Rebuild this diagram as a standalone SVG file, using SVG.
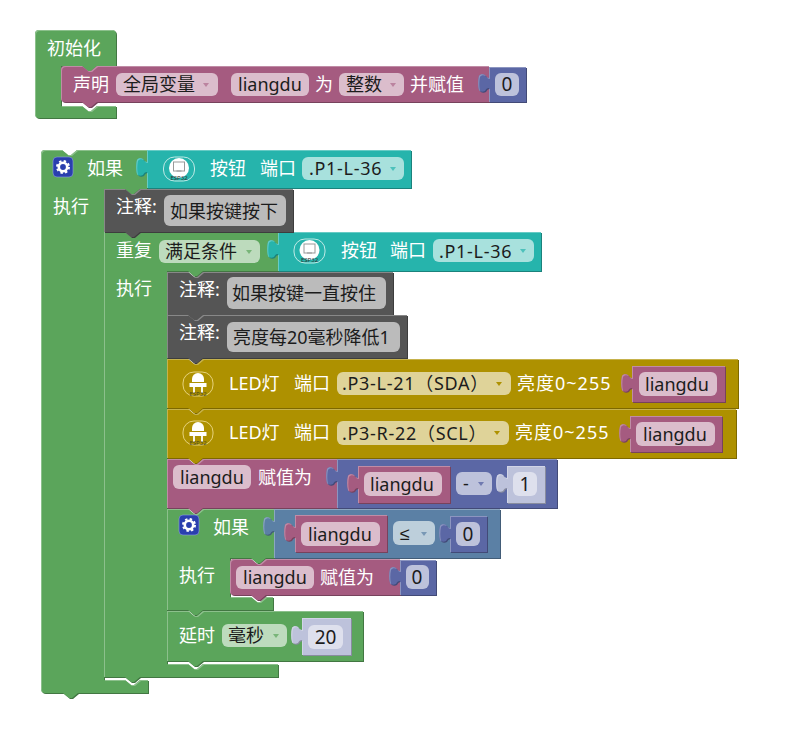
<svg xmlns="http://www.w3.org/2000/svg" width="787" height="741" viewBox="0 0 787 741">
<style>
text{font-family:"Noto Sans","Noto Sans CJK SC","DejaVu Sans",sans-serif;font-size:18px;fill:#fff}
.k{fill:#1c1c1c}
.w{letter-spacing:.7px}
.n{font-size:19px}
.b{filter:url(#bev)}
.g{fill:#5ba55b}.m{fill:#a55b80}.u{fill:#5b67a5}.s{fill:#5b80a5}.t{fill:#26b4ac}.c{fill:#555}.o{fill:#ae9100}.l{fill:#bdc2db}
.fm{fill:#dbbdcc}.fu{fill:#bdc2db}.fl{fill:#dee0ed}.ft{fill:#a8e1dd}.fg{fill:#bddbbd}.fc{fill:#bbb}.fo{fill:#dfd399}.fs{fill:#bdcfdb}
.am{fill:#a55b80;opacity:.6}.au{fill:#5b67a5;opacity:.8}.at{fill:#26b4ac;opacity:.7}.ag{fill:#5ba55b;opacity:.7}.ao{fill:#ae9100}.as{fill:#5b80a5;opacity:.7}
</style>
<defs>
<filter id="bev" x="-5%" y="-5%" width="110%" height="115%" color-interpolation-filters="sRGB">
<feOffset in="SourceGraphic" dx="1" dy="1" result="off"/>
<feColorMatrix in="off" type="matrix" values=".72 0 0 0 0 0 .72 0 0 0 0 0 .72 0 0 0 0 0 1 0" result="dark"/>
<feComposite in="SourceGraphic" in2="off" operator="out" result="edge"/>
<feColorMatrix in="edge" type="matrix" values=".7 0 0 0 .3 0 .7 0 0 .3 0 0 .7 0 .3 0 0 0 1 0" result="light"/>
<feMerge><feMergeNode in="dark"/><feMergeNode in="SourceGraphic"/><feMergeNode in="light"/></feMerge>
</filter>
<path id="arr" d="M-3-2h6l-3 4z"/>
<g id="btn">
<rect x="0" y="0" width="31" height="24" rx="11" fill="none" stroke="#bfeae6"/>
<circle cx="15.500" cy="11" r="10" fill="#fff"/>
<rect x="10" y="5" width="11" height="9" fill="none" stroke="#999"/>
<path d="M13 14h5" stroke="#999"/>
<text x="15.500" y="22.500" text-anchor="middle" style="font-size:6px;fill:#333">ESP32</text>
</g>
<g id="led">
<rect x="0" y="0" width="30" height="24" rx="11" fill="none" stroke="#e6d27c"/>
<path d="M9 10V7a6 6 0 0 1 12 0v3z" fill="#fff"/>
<rect x="6.500" y="11" width="17" height="4" fill="#fff"/>
<path d="M11 15v6M19 15v6" stroke="#fff" stroke-width="1.800"/>
<text x="15" y="23.500" text-anchor="middle" style="font-size:6px;fill:#4a4a20">ESP32</text>
</g>
<g id="gear">
<rect x="0" y="0" width="20" height="20" rx="4" fill="#2a3fae" stroke="#8f9de0" stroke-width=".6"/>
<circle cx="10" cy="10" r="4.200" fill="none" stroke="#fff" stroke-width="2.600"/>
<circle cx="10" cy="10" r="6" fill="none" stroke="#fff" stroke-width="2" stroke-dasharray="2.400 2.310"/>
</g>
</defs>

<g id="init">
<path class="b g" d="M35 34a4 4 0 0 1 4-4H112a4 4 0 0 1 4 4V66H97l-6 5h-3l-6-5H61V106H82l6 5h3l6-5H116V118H39a4 4 0 0 1-4-4z"/>
<text x="47" y="55">初始化</text>
</g>
<g id="declare">
<path class="b m" d="M61 70a4 4 0 0 1 4-4H82l6 5h3l6-5H489V102H97l-6 5h-3l-6-5H65a4 4 0 0 1-4-4z"/>
<text x="73" y="91">声明</text>
<rect class="fm" x="116" y="73" width="102" height="23" rx="6"/><text class="k" x="123" y="91">全局变量</text><use href="#arr" class="am" x="206" y="85"/>
<rect class="fm" x="231" y="73" width="78" height="23" rx="6"/><text class="k" x="238" y="91">liangdu</text>
<text x="315" y="91">为</text>
<rect class="fm" x="339" y="73" width="65" height="23" rx="6"/><text class="k" x="346" y="91">整数</text><use href="#arr" class="am" x="393" y="85"/>
<text x="410" y="91">并赋值</text>
</g>
<g id="declare-value">
<path class="b u" d="M489 67v11c-2 0-3-1-4-3c-2-1-5-1-6 1c-1 4-1 10 0 14c1 2 4 2 6 1c1-2 2-3 4-3V102H526V67z"/>
<rect class="fu" x="495" y="73" width="24" height="23" rx="6"/><text class="k n" x="507" y="91" text-anchor="middle">0</text>
</g>

<g id="if-outer">
<path class="b g" d="M41 154a4 4 0 0 1 4-4H62l6 5h3l6-5H147V189H140l-6 5h-3l-6-5H104V680H125l6 5h3l6-5H148V693H78l-6 5h-3l-6-5H45a4 4 0 0 1-4-4z"/>
<use href="#gear" x="53" y="157"/>
<text x="87" y="175">如果</text>
<text x="53" y="213">执行</text>
</g>
<g id="button-1">
<path class="b t" d="M147 150v12c-2 0-3-1-4-3c-2-1-5-1-6 1c-1 4-1 10 0 14c1 2 4 2 6 1c1-2 2-3 4-3V188H411V150z"/>
<use href="#btn" x="163.500" y="157"/>
<text x="210" y="175">按钮</text><text x="260" y="175">端口</text>
<rect class="ft" x="302" y="157" width="102" height="23" rx="6"/><text class="k w" x="309" y="175">.P1-L-36</text><use href="#arr" class="at" x="393" y="169"/>
</g>
<g id="repeat">
<path class="b g" d="M104 232h21l6 5h3l6-5H278V271H203l-6 5h-3l-6-5H167V664H188l6 5h3l6-5H278V677H140l-6 5h-3l-6-5H104z"/>
<text x="116" y="257">重复</text>
<rect class="fg" x="159" y="240" width="101" height="23" rx="6"/><text class="k" x="165" y="258">满足条件</text><use href="#arr" class="ag" x="249" y="252"/>
<text x="116" y="295">执行</text>
</g>
<g id="button-2">
<path class="b t" d="M278 232v12c-2 0-3-1-4-3c-2-1-5-1-6 1c-1 4-1 10 0 14c1 2 4 2 6 1c1-2 2-3 4-3V271H541V232z"/>
<use href="#btn" x="294" y="239"/>
<text x="341" y="257">按钮</text><text x="390" y="257">端口</text>
<rect class="ft" x="433" y="239" width="101" height="23" rx="6"/><text class="k w" x="439" y="258">.P1-L-36</text><use href="#arr" class="at" x="523" y="251"/>
</g>
<g id="comment-1">
<path class="b c" d="M104 189h21l6 5h3l6-5H293V232H140l-6 5h-3l-6-5H104z"/>
<text x="116" y="213">注释:</text>
<rect class="fc" x="164" y="195" width="122" height="31" rx="6"/><text class="k" x="170" y="218">如果按键按下</text>
</g>
<g id="comment-2">
<path class="b c" d="M167 272h21l6 5h3l6-5H393V315H203l-6 5h-3l-6-5H167z"/>
<text x="179" y="296">注释:</text>
<rect class="fc" x="227" y="277" width="159" height="32" rx="6"/><text class="k" x="232" y="300">如果按键一直按住</text>
</g>
<g id="comment-3">
<path class="b c" d="M167 315h21l6 5h3l6-5H407V358H203l-6 5h-3l-6-5H167z"/>
<text x="179" y="339">注释:</text>
<rect class="fc" x="227" y="322" width="173" height="30" rx="6"/><text class="k" x="233" y="344">亮度每20毫秒降低1</text>
</g>
<g id="led-1">
<path class="b o" d="M167 359h21l6 5h3l6-5H738V408H203l-6 5h-3l-6-5H167z"/>
<use href="#led" x="183" y="372"/>
<text x="229" y="390">LED灯</text><text x="294" y="390">端口</text>
<rect class="fo" x="337" y="372" width="174" height="23" rx="6"/><text class="k w" x="342" y="390">.P3-L-21（SDA）</text><use href="#arr" class="ao" x="499" y="384"/>
<text class="w" x="517" y="390" style="letter-spacing:1px">亮度0~255</text>
</g>
<g id="led-1-value">
<path class="b m" d="M632 366v12c-2 0-3-1-4-3c-2-1-5-1-6 1c-1 4-1 10 0 14c1 2 4 2 6 1c1-2 2-3 4-3V402H725V366z"/>
<rect class="fm" x="639" y="372" width="78" height="24" rx="6"/><text class="k" x="645" y="391">liangdu</text>
</g>
<g id="led-2">
<path class="b o" d="M167 409h21l6 5h3l6-5H736V458H203l-6 5h-3l-6-5H167z"/>
<use href="#led" x="183" y="421"/>
<text x="229" y="439">LED灯</text><text x="294" y="439">端口</text>
<rect class="fo" x="337" y="421" width="172" height="24" rx="6"/><text class="k w" x="342" y="440">.P3-R-22（SCL）</text><use href="#arr" class="ao" x="497" y="433"/>
<text x="515" y="439" style="letter-spacing:1px">亮度0~255</text>
</g>
<g id="led-2-value">
<path class="b m" d="M630 416v12c-2 0-3-1-4-3c-2-1-5-1-6 1c-1 4-1 10 0 14c1 2 4 2 6 1c1-2 2-3 4-3V452H722V416z"/>
<rect class="fm" x="636" y="422" width="79" height="24" rx="6"/><text class="k" x="643" y="441">liangdu</text>
</g>
<g id="assign-1">
<path class="b m" d="M167 459h21l6 5h3l6-5H337V508H203l-6 5h-3l-6-5H167z"/>
<rect class="fm" x="173" y="465" width="78" height="24" rx="6"/><text class="k" x="180" y="484">liangdu</text>
<text x="258" y="484">赋值为</text>
</g>
<g id="minus">
<path class="b u" d="M337 459v12c-2 0-3-1-4-3c-2-1-5-1-6 1c-1 4-1 10 0 14c1 2 4 2 6 1c1-2 2-3 4-3V508H557V459z"/>
<rect class="fu" x="456" y="472" width="36" height="23" rx="6"/><text class="k" x="463" y="490">-</text><use href="#arr" class="au" x="481" y="484"/>
</g>
<g id="minus-left">
<path class="b m" d="M358 466v12c-2 0-3-1-4-3c-2-1-5-1-6 1c-1 4-1 10 0 14c1 2 4 2 6 1c1-2 2-3 4-3V503H450V466z"/>
<rect class="fm" x="364" y="472" width="78" height="24" rx="6"/><text class="k" x="370" y="491">liangdu</text>
</g>
<g id="minus-right">
<path class="b l" d="M507 466v12c-2 0-3-1-4-3c-2-1-5-1-6 1c-1 4-1 10 0 14c1 2 4 2 6 1c1-2 2-3 4-3V503H545V466z"/>
<rect class="fl" x="513" y="472" width="24" height="24" rx="6"/><text class="k n" x="525" y="491" text-anchor="middle">1</text>
</g>
<g id="if-inner">
<path class="b g" d="M167 509h21l6 5h3l6-5H274V558H266l-6 5h-3l-6-5H230V597H251l6 5h3l6-5H273V610H203l-6 5h-3l-6-5H167z"/>
<use href="#gear" x="179" y="515"/>
<text x="213" y="534">如果</text>
<text x="179" y="582">执行</text>
</g>
<g id="compare">
<path class="b s" d="M274 509v12c-2 0-3-1-4-3c-2-1-5-1-6 1c-1 4-1 10 0 14c1 2 4 2 6 1c1-2 2-3 4-3V558H500V509z"/>
<rect class="fs" x="393" y="521" width="42" height="24" rx="6"/><text class="k" x="400" y="540" style="font-family:'Liberation Sans',sans-serif">≤</text><use href="#arr" class="as" x="424" y="534"/>
</g>
<g id="compare-left">
<path class="b m" d="M295 515v12c-2 0-3-1-4-3c-2-1-5-1-6 1c-1 4-1 10 0 14c1 2 4 2 6 1c1-2 2-3 4-3V552H387V515z"/>
<rect class="fm" x="301" y="522" width="79" height="24" rx="6"/><text class="k" x="308" y="541">liangdu</text>
</g>
<g id="compare-right">
<path class="b u" d="M450 516v12c-2 0-3-1-4-3c-2-1-5-1-6 1c-1 4-1 10 0 14c1 2 4 2 6 1c1-2 2-3 4-3V552H487V516z"/>
<rect class="fu" x="456" y="522" width="24" height="24" rx="6"/><text class="k n" x="468" y="541" text-anchor="middle">0</text>
</g>
<g id="assign-2">
<path class="b m" d="M230 563a4 4 0 0 1 4-4H251l6 5h3l6-5H400V595H266l-6 5h-3l-6-5H234a4 4 0 0 1-4-4z"/>
<rect class="fm" x="236" y="566" width="78" height="23" rx="6"/><text class="k" x="243" y="584">liangdu</text>
<text x="320" y="584">赋值为</text>
</g>
<g id="assign-2-value">
<path class="b u" d="M400 560v11c-2 0-3-1-4-3c-2-1-5-1-6 1c-1 4-1 10 0 14c1 2 4 2 6 1c1-2 2-3 4-3V595H436V560z"/>
<rect class="fu" x="406" y="565" width="23" height="24" rx="6"/><text class="k n" x="417" y="584" text-anchor="middle">0</text>
</g>
<g id="delay">
<path class="b g" d="M167 611h21l6 5h3l6-5H363V661H203l-6 5h-3l-6-5H167z"/>
<text x="179" y="642">延时</text>
<rect class="fg" x="222" y="624" width="65" height="23" rx="6"/><text class="k" x="228" y="642">毫秒</text><use href="#arr" class="ag" x="276" y="636"/>
</g>
<g id="delay-value">
<path class="b l" d="M302 618v12c-2 0-3-1-4-3c-2-1-5-1-6 1c-1 4-1 10 0 14c1 2 4 2 6 1c1-2 2-3 4-3V655H351V618z"/>
<rect class="fl" x="308" y="625" width="35" height="24" rx="6"/><text class="k n" x="325.500" y="644" text-anchor="middle">20</text>
</g>
</svg>
